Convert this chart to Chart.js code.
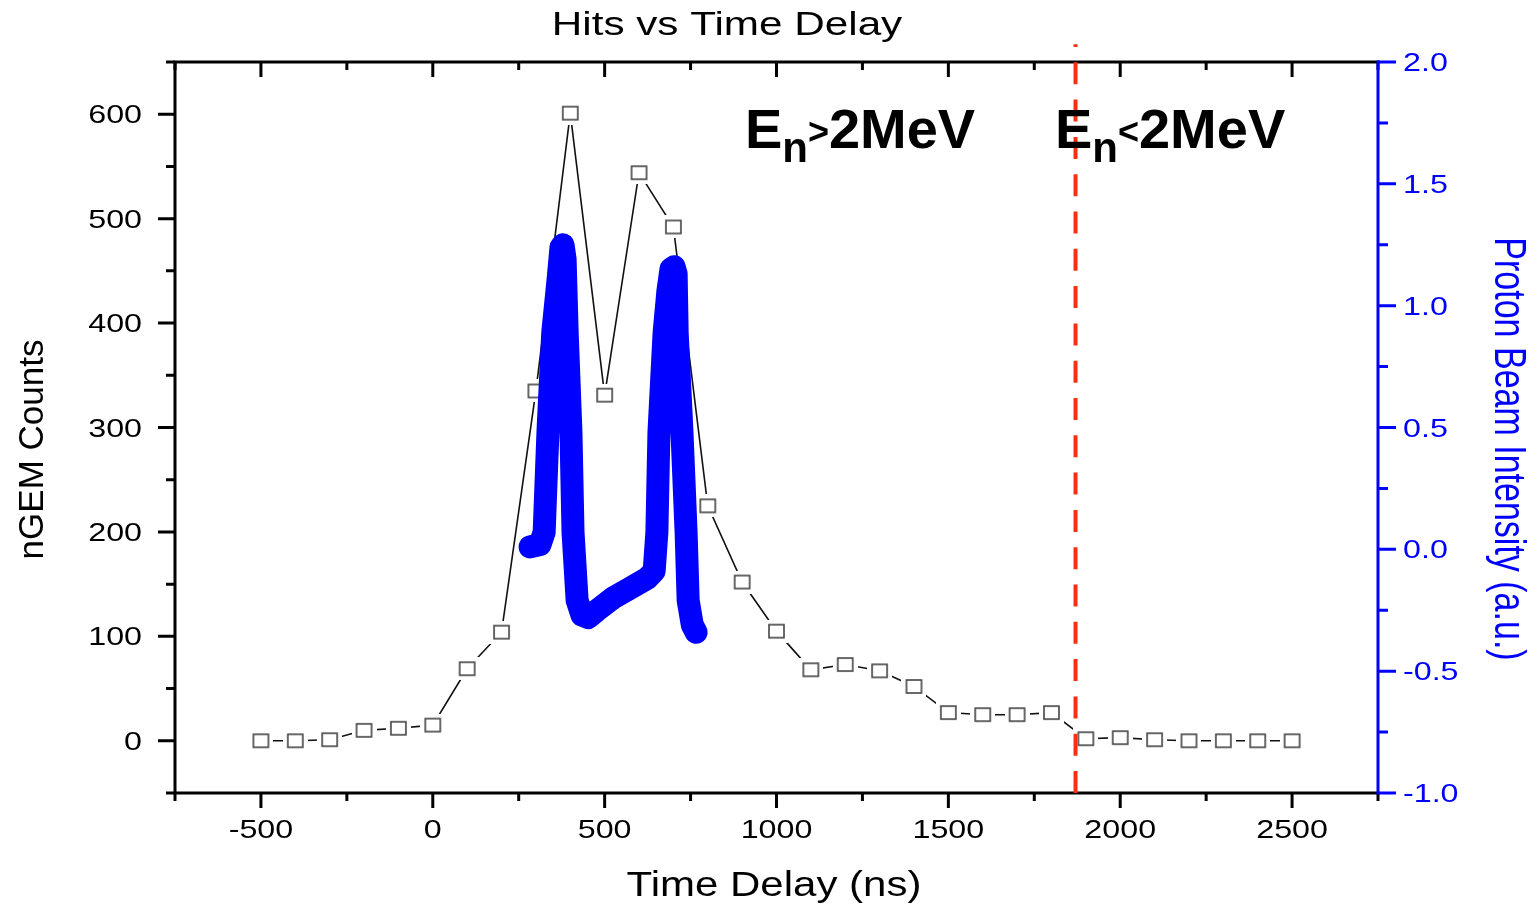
<!DOCTYPE html>
<html lang="en">
<head>
<meta charset="UTF-8">
<title>Hits vs Time Delay</title>
<script src="https://cdn.jsdelivr.net/npm/chart.js@4.4.0/dist/chart.umd.min.js"></script>
<style>
  html, body { margin: 0; padding: 0; background: #fff; }
  #chart-container { position: relative; width: 1530px; height: 904px; }
</style>
</head>
<body>
<div id="chart-container"><canvas id="hitsChart"></canvas></div>
<script>
// Values
const delayTimes = [-500, -400, -300, -200, -100, 0, 100, 200, 300, 400, 500, 600, 700, 800, 900, 1000,
  1100, 1200, 1300, 1400, 1500, 1600, 1700, 1800, 1900, 2000, 2100, 2200, 2300, 2400, 2500];
const hitCounts = [0, 0, 1, 10, 12, 15, 69, 104, 335, 601, 331, 544, 492, 225, 152, 105,
  68, 73, 67, 52, 27, 25, 25, 27, 2, 3, 1, 0, 0, 0, 0];

// Proton beam pulse (right axis)
const beamTimes = [283, 312, 324, 335, 349, 364, 373, 379, 385, 391, 402, 408, 420, 434, 452, 478, 524,
  574, 623, 644, 652, 658, 673, 684, 693, 702, 708, 711, 725, 737, 743, 755, 766];
const beamIntensity = [0.01, 0.02, 0.07, 0.48, 0.89, 1.10, 1.24, 1.25, 1.19, 0.89, 0.48, 0.07, -0.21, -0.27, -0.28, -0.25, -0.20,
  -0.16, -0.12, -0.09, 0.07, 0.48, 0.89, 1.06, 1.15, 1.16, 1.13, 0.89, 0.48, 0.07, -0.21, -0.31, -0.34];

// Energy boundary (dashed red line)
const boundaryTime = 1870;

// Tick labels
const xTickLabels = ['-500', '0', '500', '1000', '1500', '2000', '2500'];
const yTickLabels = ['0', '100', '200', '300', '400', '500', '600'];
const y1TickLabels = ['-1.0', '-0.5', '0.0', '0.5', '1.0', '1.5', '2.0'];

const App = {
    elements: {
        canvas: document.getElementById('hitsChart'),
    },

    init() {
        this.renderChart();
    },

    // Open square marker with a white halo so the line stops short of it
    makeMarker() {
        const c = document.createElement('canvas');
        c.width = 25;
        c.height = 23;
        const g = c.getContext('2d');
        g.fillStyle = '#fff';
        g.fillRect(0, 0, c.width, c.height);
        g.strokeStyle = '#444';
        g.lineWidth = 1.6;
        g.strokeRect(5, 5, 15, 13);
        return c;
    },

    // Text stretched horizontally like the original export
    drawText(ctx, text, x, y, font, sx, align, color) {
        ctx.save();
        ctx.font = font;
        ctx.fillStyle = color || '#000';
        ctx.textAlign = align || 'center';
        ctx.textBaseline = 'alphabetic';
        ctx.translate(x, y);
        ctx.scale(sx, 1);
        ctx.fillText(text, 0, 0);
        ctx.restore();
    },

    // Frame, major and minor ticks
    axesPlugin() {
        return {
            id: 'originAxes',
            beforeDatasetsDraw(chart) {
                const { ctx, chartArea: a, scales } = chart;
                ctx.save();
                ctx.lineWidth = 3;
                ctx.lineCap = 'square';
                ctx.strokeStyle = '#000';
                ctx.beginPath();
                ctx.moveTo(a.left, a.top); ctx.lineTo(a.right, a.top);
                ctx.moveTo(a.left, a.bottom); ctx.lineTo(a.right, a.bottom);
                ctx.moveTo(a.left, a.top); ctx.lineTo(a.left, a.bottom);
                ctx.stroke();

                ctx.lineCap = 'butt';
                ctx.beginPath();
                const xMajor = xTickLabels.map(Number);
                const xStep = xMajor[1] - xMajor[0];
                const xMinor = xMajor.map(v => v - xStep / 2).concat([xMajor[xMajor.length - 1] + xStep / 2]);
                xMajor.forEach(v => {
                    const px = scales.x.getPixelForValue(v);
                    ctx.moveTo(px, a.bottom); ctx.lineTo(px, a.bottom + 15);
                    ctx.moveTo(px, a.top); ctx.lineTo(px, a.top + 15);
                });
                xMinor.forEach(v => {
                    const px = scales.x.getPixelForValue(v);
                    ctx.moveTo(px, a.bottom); ctx.lineTo(px, a.bottom + 8);
                    ctx.moveTo(px, a.top); ctx.lineTo(px, a.top + 8);
                });

                const yMajor = yTickLabels.map(Number);
                const yStep = yMajor[1] - yMajor[0];
                const yMinor = yMajor.map(v => v - yStep / 2).concat([yMajor[yMajor.length - 1] + yStep / 2]);
                yMajor.forEach(v => {
                    const py = scales.y.getPixelForValue(v);
                    ctx.moveTo(a.left, py); ctx.lineTo(a.left - 17, py);
                });
                yMinor.forEach(v => {
                    const py = scales.y.getPixelForValue(v);
                    ctx.moveTo(a.left, py); ctx.lineTo(a.left - 9, py);
                });
                ctx.stroke();

                // Right axis in blue
                ctx.strokeStyle = '#0000ff';
                ctx.lineCap = 'square';
                ctx.beginPath();
                ctx.moveTo(a.right, a.top); ctx.lineTo(a.right, a.bottom);
                ctx.stroke();
                ctx.lineCap = 'butt';
                ctx.beginPath();
                const rMajor = y1TickLabels.map(Number);
                const rStep = rMajor[1] - rMajor[0];
                const rMinor = rMajor.slice(1).map(v => v - rStep / 2);
                rMajor.forEach(v => {
                    const py = scales.y1.getPixelForValue(v);
                    ctx.moveTo(a.right, py); ctx.lineTo(a.right + 18, py);
                });
                rMinor.forEach(v => {
                    const py = scales.y1.getPixelForValue(v);
                    ctx.moveTo(a.right, py); ctx.lineTo(a.right + 10, py);
                });
                ctx.stroke();
                ctx.restore();
            },
        };
    },

    // Tick labels, titles and the energy annotations
    textPlugin() {
        const self = this;
        return {
            id: 'originText',
            afterDraw(chart) {
                const { ctx, chartArea: a, scales } = chart;
                const tickFont = '26px "Liberation Sans", Arial, sans-serif';

                xTickLabels.forEach(label => {
                    const px = scales.x.getPixelForValue(Number(label));
                    self.drawText(ctx, label, px, a.bottom + 45, tickFont, 1.24, 'center');
                });
                yTickLabels.forEach(label => {
                    const py = scales.y.getPixelForValue(Number(label));
                    self.drawText(ctx, label, a.left - 33, py + 9, tickFont, 1.24, 'right');
                });
                y1TickLabels.forEach(label => {
                    const py = scales.y1.getPixelForValue(Number(label));
                    self.drawText(ctx, label, a.right + 25, py + 9, tickFont, 1.24, 'left', '#0000ff');
                });

                // Titles
                self.drawText(ctx, 'Hits vs Time Delay', 727, 35, '33px "Liberation Sans", Arial, sans-serif', 1.28, 'center');
                self.drawText(ctx, 'Time Delay (ns)', 774, 896, '35px "Liberation Sans", Arial, sans-serif', 1.2, 'center');

                ctx.save();
                ctx.font = '35px "Liberation Sans", Arial, sans-serif';
                ctx.fillStyle = '#000';
                ctx.textAlign = 'center';
                ctx.translate(43, (a.top + a.bottom) / 2 + 22);
                ctx.rotate(-Math.PI / 2);
                ctx.fillText('nGEM Counts', 0, 0);
                ctx.restore();

                ctx.save();
                ctx.font = '34px "Liberation Sans", Arial, sans-serif';
                ctx.fillStyle = '#0000ff';
                ctx.textAlign = 'center';
                ctx.translate(1495, 449);
                ctx.rotate(Math.PI / 2);
                ctx.scale(1, 1.3);
                ctx.fillText('Proton Beam Intensity (a.u.)', 0, 0);
                ctx.restore();

                // E_n annotations, anchored in data coordinates
                const notes = [
                    { x: 908, y: 568, sign: '>' },
                    { x: 1810, y: 568, sign: '<' },
                ];
                notes.forEach(n => {
                    let px = scales.x.getPixelForValue(n.x);
                    const py = scales.y.getPixelForValue(n.y);
                    ctx.save();
                    ctx.fillStyle = '#000';
                    ctx.textAlign = 'left';
                    ctx.font = 'bold 56px "Liberation Sans", Arial, sans-serif';
                    ctx.fillText('E', px, py);
                    px += ctx.measureText('E').width;
                    ctx.font = 'bold 42px "Liberation Sans", Arial, sans-serif';
                    ctx.fillText('n', px, py + 14);
                    px += ctx.measureText('n').width;
                    ctx.font = 'bold 36px "Liberation Sans", Arial, sans-serif';
                    ctx.fillText(n.sign, px, py - 4);
                    px += ctx.measureText(n.sign).width;
                    ctx.font = 'bold 56px "Liberation Sans", Arial, sans-serif';
                    ctx.fillText('2MeV', px, py);
                    ctx.restore();
                });
            },
        };
    },

    renderChart() {
        const ctx = this.elements.canvas.getContext('2d');
        const marker = this.makeMarker();

        const hitsPoints = delayTimes.map((t, i) => ({ x: t, y: hitCounts[i] }));
        const beamPoints = beamTimes.map((t, i) => ({ x: t, y: beamIntensity[i] }));
        const boundaryPoints = [{ x: boundaryTime, y: -50 }, { x: boundaryTime, y: 667 }];

        window.myChart = new Chart(ctx, {
            type: 'line',
            data: {
                datasets: [{
                    label: 'Proton Beam Intensity',
                    data: beamPoints,
                    yAxisID: 'y1',
                    borderColor: '#0000ff',
                    borderWidth: 23,
                    borderCapStyle: 'round',
                    borderJoinStyle: 'round',
                    pointRadius: 0,
                    tension: 0,
                    order: 0,
                }, {
                    label: 'Boundary',
                    data: boundaryPoints,
                    yAxisID: 'y',
                    borderColor: '#ff2d0f',
                    borderWidth: 4,
                    borderDash: [22, 15.3],
                    pointRadius: 0,
                    clip: false,
                    order: 1,
                }, {
                    label: 'nGEM Counts',
                    data: hitsPoints,
                    yAxisID: 'y',
                    borderColor: '#111',
                    borderWidth: 1.6,
                    pointStyle: marker,
                    pointRadius: 10,
                    tension: 0,
                    order: 2,
                }]
            },
            options: {
                responsive: true,
                maintainAspectRatio: false,
                animation: false,
                layout: { padding: { left: 175, right: 152, top: 62, bottom: 111 } },
                scales: {
                    x: { type: 'linear', min: -750, max: 2750, display: false },
                    y: { type: 'linear', min: -50, max: 650, display: false },
                    y1: { type: 'linear', position: 'right', min: -1, max: 2, display: false },
                },
                plugins: {
                    legend: { display: false },
                    tooltip: { enabled: false },
                },
            },
            plugins: [this.axesPlugin(), this.textPlugin()],
        });
    },
};

document.addEventListener('DOMContentLoaded', () => {
    App.init();
});
</script>
</body>
</html>
